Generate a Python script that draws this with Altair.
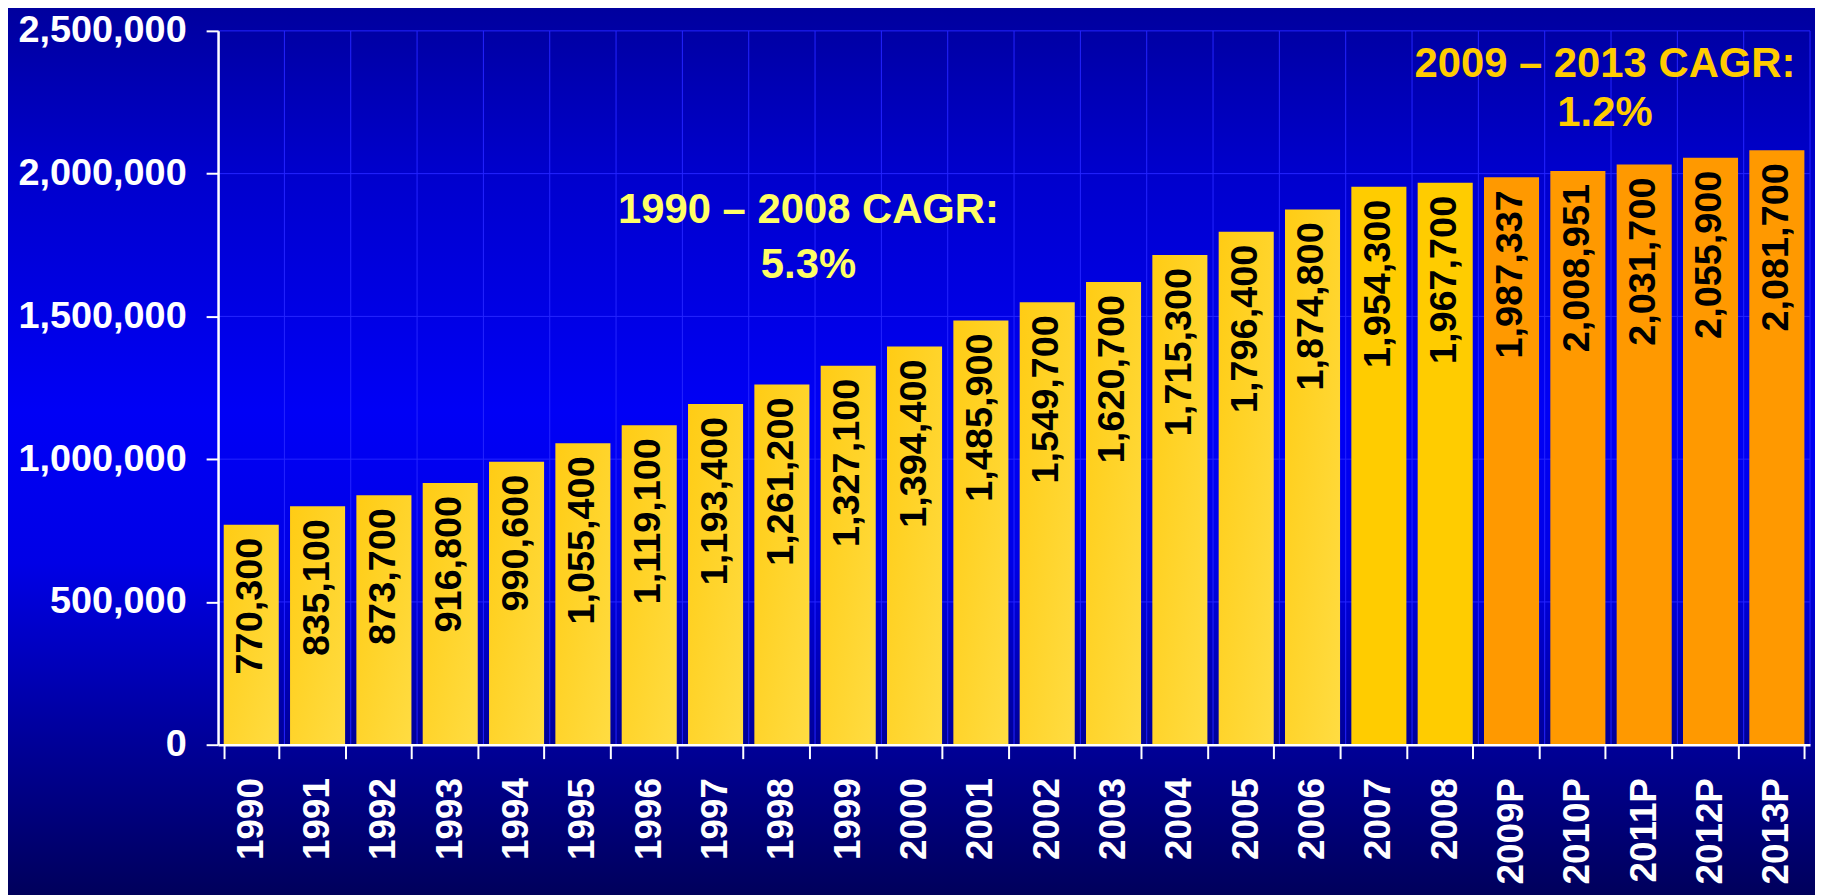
import altair as alt
import pandas as pd

# ---- data ----
years = ["1990", "1991", "1992", "1993", "1994", "1995", "1996", "1997", "1998",
         "1999", "2000", "2001", "2002", "2003", "2004", "2005", "2006", "2007",
         "2008", "2009P", "2010P", "2011P", "2012P", "2013P"]
values = [770300, 835100, 873700, 916800, 990600, 1055400, 1119100, 1193400,
          1261200, 1327100, 1394400, 1485900, 1549700, 1620700, 1715300, 1796400,
          1874800, 1954300, 1967700, 1987337, 2008951, 2031700, 2055900, 2081700]
groups = ["hist"] * 17 + ["recent"] * 2 + ["proj"] * 5
y_ticks = [0, 500000, 1000000, 1500000, 2000000, 2500000]
note_left = ["1990 – 2008 CAGR:", "5.3%"]
note_right = ["2009 – 2013 CAGR:", "1.2%"]

df = pd.DataFrame({"year": years, "value": values, "group": groups})
df["label"] = [f"{v:,}" for v in values]
grid_df = pd.DataFrame({"value": y_ticks})

W, H = 1599, 717
TOP = 21
FONT = "Liberation Sans"
PI = 0.17
STEP = W / len(years)
HALF_GAP = PI * STEP / 2
GRID = "#2424FF"

xscale = alt.Scale(domain=years, paddingInner=PI, paddingOuter=PI / 2)
yscale = alt.Scale(domain=[0, 2500000], nice=False)

x_axis = alt.Axis(title=None, labelAngle=270, labelAlign="right", labelBaseline="middle",
                  labelFontSize=37, labelFont=FONT, labelFontWeight="bold",
                  labelColor="white", labelPadding=19, tickSize=14, tickColor="white",
                  tickWidth=2, domainColor="white", domainWidth=2.5, tickBand="extent",
                  grid=False, zindex=1)
y_axis = alt.Axis(title=None, values=y_ticks, format=",d", labelFontSize=38,
                  labelFont=FONT, labelFontWeight="bold", labelColor="white",
                  labelPadding=20, tickSize=12, tickColor="white", tickWidth=2,
                  domainColor="white", domainWidth=2.5, grid=False, zindex=1)


def X(**kw):
    return alt.X("year:N", sort=years, scale=xscale, axis=x_axis, **kw)


def Y(field="value:Q"):
    return alt.Y(field, scale=yscale, axis=y_axis)


bg_gradient = alt.LinearGradient(
    gradient="linear", x1=0, y1=0, x2=0, y2=1,
    stops=[alt.GradientStop(color="#00009E", offset=0),
           alt.GradientStop(color="#0000CC", offset=0.18),
           alt.GradientStop(color="#0000F6", offset=0.45),
           alt.GradientStop(color="#0000E6", offset=0.62),
           alt.GradientStop(color="#000098", offset=0.82),
           alt.GradientStop(color="#000058", offset=1)])

background = alt.Chart(pd.DataFrame({"k": [0]})).mark_rect(
    fill=bg_gradient, stroke=None).encode(
    x=alt.value(-215), x2=alt.value(W + 10), y=alt.value(-TOP - 2), y2=alt.value(H + 160))

hgrid = alt.Chart(grid_df).mark_rule(color=GRID, strokeWidth=1).encode(y=Y())

base = alt.Chart(df)

vgrid = base.mark_rule(color=GRID, strokeWidth=1, xOffset=-HALF_GAP).encode(
    x=X(bandPosition=0), y=alt.value(0), y2=alt.value(H))
vgrid_end = base.transform_filter(alt.datum.year == years[-1]).mark_rule(
    color=GRID, strokeWidth=1, xOffset=HALF_GAP).encode(
    x=X(bandPosition=1), y=alt.value(0), y2=alt.value(H))

hist_fill = alt.LinearGradient(
    gradient="linear", x1=0, y1=0, x2=1, y2=1,
    stops=[alt.GradientStop(color="#FFCC14", offset=0),
           alt.GradientStop(color="#FFDC42", offset=1)])

bars_hist = base.transform_filter(alt.datum.group == "hist").mark_bar(
    fill=hist_fill).encode(x=X(), y=Y())
bars_recent = base.transform_filter(alt.datum.group == "recent").mark_bar(
    color="#FFCC00").encode(x=X(), y=Y())
bars_proj = base.transform_filter(alt.datum.group == "proj").mark_bar(
    color="#FF9900").encode(x=X(), y=Y())

labels = base.mark_text(angle=270, align="right", baseline="middle", dx=-13,
                        font=FONT, fontWeight="bold", fontSize=38, color="black").encode(
    x=X(), y=Y(), text="label:N")

left_note = alt.Chart(pd.DataFrame({"k": [0]})).mark_text(
    font=FONT, fontWeight="bold", fontSize=42, color="#FFFF66",
    align="center", baseline="middle", lineHeight=55).encode(
    x=alt.value(593), y=alt.value(180), text=alt.value(note_left))
right_note = alt.Chart(pd.DataFrame({"k": [0]})).mark_text(
    font=FONT, fontWeight="bold", fontSize=42, color="#FFCC00",
    align="center", baseline="middle", lineHeight=50).encode(
    x=alt.value(1393), y=alt.value(33), text=alt.value(note_right))

chart = alt.layer(
    background, hgrid, vgrid, vgrid_end, bars_hist, bars_recent, bars_proj,
    labels, left_note, right_note
).properties(
    width=W, height=H,
    autosize=alt.AutoSizeParams(type="none"),
    padding={"left": 211, "top": TOP, "right": 5, "bottom": 150},
    background="#000090"
).configure_view(stroke=None)

chart.save("out.html", embed_options={"renderer": "svg", "actions": False})
